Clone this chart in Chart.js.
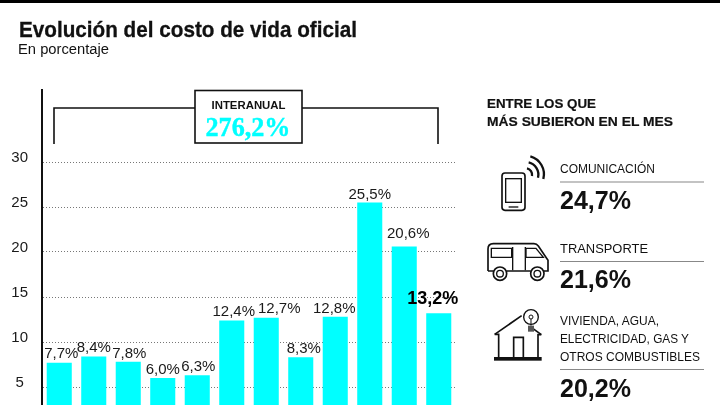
<!DOCTYPE html>
<html lang="es"><head><meta charset="utf-8">
<style>
html,body{margin:0;padding:0;background:#fff;width:720px;height:405px;overflow:hidden}
#wrap{position:relative;width:720px;height:405px}
canvas{position:absolute;left:0;top:0}
svg{position:absolute;left:0;top:0}
text{font-family:"Liberation Sans",Arial,sans-serif;fill:#111}
</style>
<script src="https://cdn.jsdelivr.net/npm/chart.js@4/dist/chart.umd.min.js"></script>
</head><body><div id="wrap">
<canvas id="c" width="720" height="405"></canvas>
<svg width="720" height="405" viewBox="0 0 720 405">
<rect x="0" y="0" width="720" height="3" fill="#000"/>
<text x="19" y="37" font-size="21.5" font-weight="700" textLength="338" lengthAdjust="spacingAndGlyphs" stroke="#111" stroke-width="0.3">Evolución del costo de vida oficial</text>
<text x="18" y="54" font-size="14" fill="#222" textLength="91" lengthAdjust="spacingAndGlyphs">En porcentaje</text>
<path d="M54 144V108H195M302 108H438V144" fill="none" stroke="#111" stroke-width="1.6"/>
<rect x="195" y="90.5" width="107" height="52.5" fill="#fff" stroke="#111" stroke-width="1.6"/>
<text x="248.5" y="109" font-size="11.5" font-weight="700" text-anchor="middle" textLength="74" lengthAdjust="spacingAndGlyphs">INTERANUAL</text>
<text x="248" y="136" font-size="28" font-weight="700" text-anchor="middle" style="font-family:'Liberation Serif',serif;fill:#00FFFF;stroke:#00FFFF;stroke-width:.4" textLength="85" lengthAdjust="spacingAndGlyphs">276,2%</text>

<text x="487" y="108" font-size="13" font-weight="700" textLength="109" lengthAdjust="spacingAndGlyphs" stroke="#111" stroke-width="0.2">ENTRE LOS QUE</text>
<text x="487" y="126" font-size="13" font-weight="700" textLength="186" lengthAdjust="spacingAndGlyphs" stroke="#111" stroke-width="0.2">MÁS SUBIERON EN EL MES</text>

<text x="560" y="173" font-size="12.5" textLength="95" lengthAdjust="spacingAndGlyphs">COMUNICACIÓN</text>
<rect x="560" y="181.5" width="144" height="1" fill="#888"/>
<text x="560" y="209" font-size="25" font-weight="700" textLength="71" lengthAdjust="spacingAndGlyphs">24,7%</text>

<text x="560" y="253" font-size="13.5" textLength="88" lengthAdjust="spacingAndGlyphs">TRANSPORTE</text>
<rect x="560" y="261" width="144" height="1" fill="#888"/>
<text x="560" y="288" font-size="25" font-weight="700" textLength="71" lengthAdjust="spacingAndGlyphs">21,6%</text>

<text x="560" y="325" font-size="13" textLength="99" lengthAdjust="spacingAndGlyphs">VIVIENDA, AGUA,</text>
<text x="560" y="343" font-size="13" textLength="129" lengthAdjust="spacingAndGlyphs">ELECTRICIDAD, GAS Y</text>
<text x="560" y="361" font-size="13" textLength="140" lengthAdjust="spacingAndGlyphs">OTROS COMBUSTIBLES</text>
<rect x="560" y="369" width="144" height="1" fill="#888"/>
<text x="560" y="397" font-size="25" font-weight="700" textLength="71" lengthAdjust="spacingAndGlyphs">20,2%</text>

<g transform="translate(470,85) scale(0.33333)" fill="none" stroke="#111" stroke-width="5">
  <rect x="96" y="264" width="69" height="112" rx="9"/>
  <rect x="107" y="281" width="47" height="71" stroke-width="4"/>
  <path d="M116 366H145" stroke-width="4"/>
  <g stroke-width="7">
    <path d="M171 250A20 20 0 0 1 186 273"/>
    <path d="M176 232A38 38 0 0 1 204 278"/>
    <path d="M181 214A56 56 0 0 1 220 282"/>
  </g>
  <path d="M54 558V492Q54 476 70 476H192Q200 476 205 483L234 526V558H222M182 558H110M70 558H54"/>
  <path d="M64 490H125V517H64ZM168 490H198L220 517H168Z" stroke-width="4"/>
  <path d="M128 486V556M166 486V556" stroke-width="4"/>
  <circle cx="90" cy="566" r="20" fill="#fff"/><circle cx="90" cy="566" r="10" stroke-width="4"/>
  <circle cx="202" cy="566" r="20" fill="#fff"/><circle cx="202" cy="566" r="10" stroke-width="4"/>
  <path d="M74 748L155 692M188 730L214 749"/>
  <path d="M74 748H86V816M214 749H204V816"/>
  <rect x="72" y="816" width="143" height="11" fill="#111" stroke="none"/>
  <path d="M131 816V757H160V816" stroke-width="5"/>
  <circle cx="183" cy="696" r="22" stroke-width="4"/>
  <path d="M183 722V702M177 696a6 6 0 1 0 12 0a6 6 0 1 0 -12 0" stroke-width="3"/>
  <rect x="174" y="722" width="18" height="18" fill="#555" stroke="none"/>
</g>
</svg>
</div>
<script>
const categories = ["mar","abr","may","jun","jul","ago","sep","oct","nov","dic","ene","feb"];
const inflation = [7.7,8.4,7.8,6.0,6.3,12.4,12.7,8.3,12.8,25.5,20.6,13.2];
const yTicks = [5,10,15,20,25,30];
const labelShiftX = [2,0,1,0,1,2,13,3,-1,0,4,-6];
const labelGapY = [5,4,4,4,4,4,5,4,4,4,9,9];

const valueLabels = {
  id:'valueLabels',
  afterDatasetsDraw(chart){
    const ctx = chart.ctx, meta = chart.getDatasetMeta(0);
    ctx.save();
    ctx.textAlign='center'; ctx.textBaseline='alphabetic';
    meta.data.forEach((bar,i)=>{
      const last = i===inflation.length-1;
      ctx.font = (last?'700 18px':'400 15px')+' "Liberation Sans",Arial,sans-serif';
      ctx.fillStyle = last?'#000':'#1a1a1a';
      ctx.fillText(inflation[i].toFixed(1).replace('.',',')+'%', bar.x+labelShiftX[i], bar.y-labelGapY[i]);
    });
    ctx.restore();
  }
};

new Chart(document.getElementById('c'),{
  type:'bar',
  data:{labels:categories,datasets:[{data:inflation,backgroundColor:'#00FFFF',borderWidth:0,
    categoryPercentage:1,barPercentage:0.726}]},
  options:{
    responsive:false,animation:false,
    layout:{padding:{top:90,bottom:0,left:0,right:264}},
    plugins:{legend:{display:false},tooltip:{enabled:false}},
    scales:{
      x:{display:false,grid:{display:false}},
      y:{
        min:3,max:38,
        afterBuildTicks(s){s.ticks=yTicks.map(v=>({value:v}));},
        afterFit(s){s.width=42;s.paddingTop=0;s.paddingBottom=0;},
        grid:{color:'#777',lineWidth:1,drawTicks:false},
        border:{display:true,color:'#111',width:2,dash:[1,2]},
        ticks:{color:'#1a1a1a',padding:14,labelOffset:-4,crossAlign:'center',font:{size:15,family:'"Liberation Sans",Arial,sans-serif'}}
      }
    }
  },
  plugins:[valueLabels]
});
</script>
</body></html>
